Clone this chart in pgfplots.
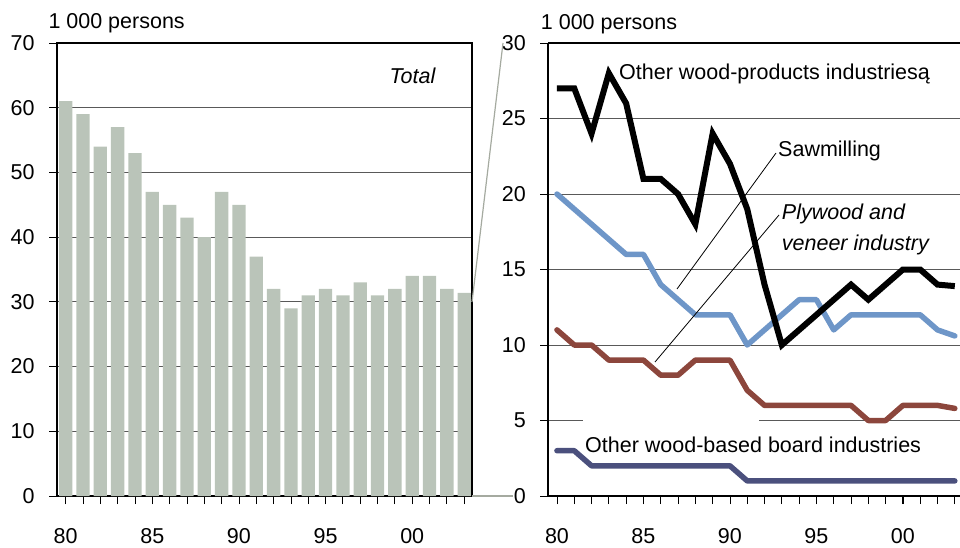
\documentclass[border=0pt]{standalone}
\usepackage{fontspec}
\setmainfont{Liberation Sans}
\usepackage{pgfplots}
\pgfplotsset{compat=1.18}
\definecolor{barc}{RGB}{186,196,185}
\definecolor{saw}{RGB}{110,150,200}
\definecolor{ply}{RGB}{140,70,60}
\definecolor{board}{RGB}{75,80,125}
\definecolor{conn}{RGB}{165,170,160}
\begin{document}
\begin{tikzpicture}[font=\fontsize{21.5}{25}\selectfont]
\path[use as bounding box] (0pt,0pt) rectangle (960pt,547pt);
\pgfplotsset{
  common/.style={
    scale only axis, anchor=south west, height=453pt,
    /pgf/number format/assume math mode=true,
    xmin=1979.5, ymin=0,
    xtick={1980,1985,...,2000}, xticklabels={80,85,90,95,00},
    minor xtick={1980,...,2003},
    tick align=outside, tick pos=left,
    major tick length=8pt, minor tick length=8pt,
    tick style={black, line width=0.8pt},
    ymajorgrids, grid style={black!65, line width=0.8pt},
    axis line style={-, black, line width=1.8pt},
    xticklabel style={yshift=-21pt},
    yticklabel style={xshift=-11pt},
    tick label style={font=\fontsize{21.5}{25}\selectfont},
  }
}
% left panel: total
\begin{axis}[common, at={(57pt,51pt)}, width=415pt,
  xmax=2003.45, ymax=70, ytick={0,10,...,70},
  ybar, bar width=13.3pt]
\addplot[fill=barc, draw=none] coordinates {
(1980,61) (1981,59) (1982,54) (1983,57) (1984,53) (1985,47)
(1986,45) (1987,43) (1988,40) (1989,47) (1990,45) (1991,37)
(1992,32) (1993,29) (1994,31) (1995,32) (1996,31) (1997,33)
(1998,31) (1999,32) (2000,34) (2001,34) (2002,32) (2003,31.4)
};
\end{axis}
% right panel: by industry
\begin{axis}[common, at={(548.3pt,51pt)}, width=411.7pt,
  xmax=2003.3, ymax=30, ytick={0,5,...,30},
  axis x line*=box, axis y line*=left]
\fill[white] (axis cs:1981.5,4.7) rectangle (axis cs:1991.7,5.3);
\addplot[board, line width=5.5pt, line join=round, line cap=round] coordinates {
(1980,3) (1981,3) (1982,2) (1983,2) (1984,2) (1985,2) (1986,2) (1987,2)
(1988,2) (1989,2) (1990,2) (1991,1) (1992,1) (1993,1) (1994,1) (1995,1)
(1996,1) (1997,1) (1998,1) (1999,1) (2000,1) (2001,1) (2002,1) (2003,1)
};
\addplot[ply, line width=5.5pt, line join=round, line cap=round] coordinates {
(1980,11) (1981,10) (1982,10) (1983,9) (1984,9) (1985,9) (1986,8) (1987,8)
(1988,9) (1989,9) (1990,9) (1991,7) (1992,6) (1993,6) (1994,6) (1995,6)
(1996,6) (1997,6) (1998,5) (1999,5) (2000,6) (2001,6) (2002,6) (2003,5.8)
};
\addplot[saw, line width=5.5pt, line join=round, line cap=round] coordinates {
(1980,20) (1981,19) (1982,18) (1983,17) (1984,16) (1985,16) (1986,14) (1987,13)
(1988,12) (1989,12) (1990,12) (1991,10) (1992,11) (1993,12) (1994,13) (1995,13)
(1996,11) (1997,12) (1998,12) (1999,12) (2000,12) (2001,12) (2002,11) (2003,10.6)
};
\addplot[black, line width=6pt] coordinates {
(1980,27) (1981,27) (1982,24) (1983,28) (1984,26) (1985,21) (1986,21) (1987,20)
(1988,18) (1989,24) (1990,22) (1991,19) (1992,14) (1993,10) (1994,11) (1995,12)
(1996,13) (1997,14) (1998,13) (1999,14) (2000,15) (2001,15) (2002,14) (2003,13.9)
};
\end{axis}
% connectors between panels
\draw[conn, line width=1.2pt] (472pt,245pt) -- (503pt,504pt);
\draw[conn, line width=1.2pt] (472pt,51pt) -- (513pt,51pt);
% leader lines
\draw[black, line width=0.8pt] (776pt,394pt) -- (677pt,258pt);
\draw[black, line width=0.8pt] (779pt,332pt) -- (655pt,185pt);
% texts
\begin{scope}[every node/.style={inner sep=0pt}]
\node[anchor=base west] at (48.3pt,518.7pt) {1 000 persons};
\node[anchor=base west] at (540.7pt,517.7pt) {1 000 persons};
\node[anchor=base west] at (389.3pt,463.7pt) {\itshape Total};
\node[anchor=base west] at (619pt,467.7pt) {Other wood-products industriesą};
\node[anchor=base west] at (778pt,390.3pt) {Sawmilling};
\node[anchor=base west] at (781.7pt,327pt) {\itshape Plywood and};
\node[anchor=base west] at (781.7pt,297pt) {\itshape veneer industry};
\node[anchor=base west] at (585pt,94.3pt) {Other wood-based board industries};
\end{scope}
\end{tikzpicture}
\end{document}
